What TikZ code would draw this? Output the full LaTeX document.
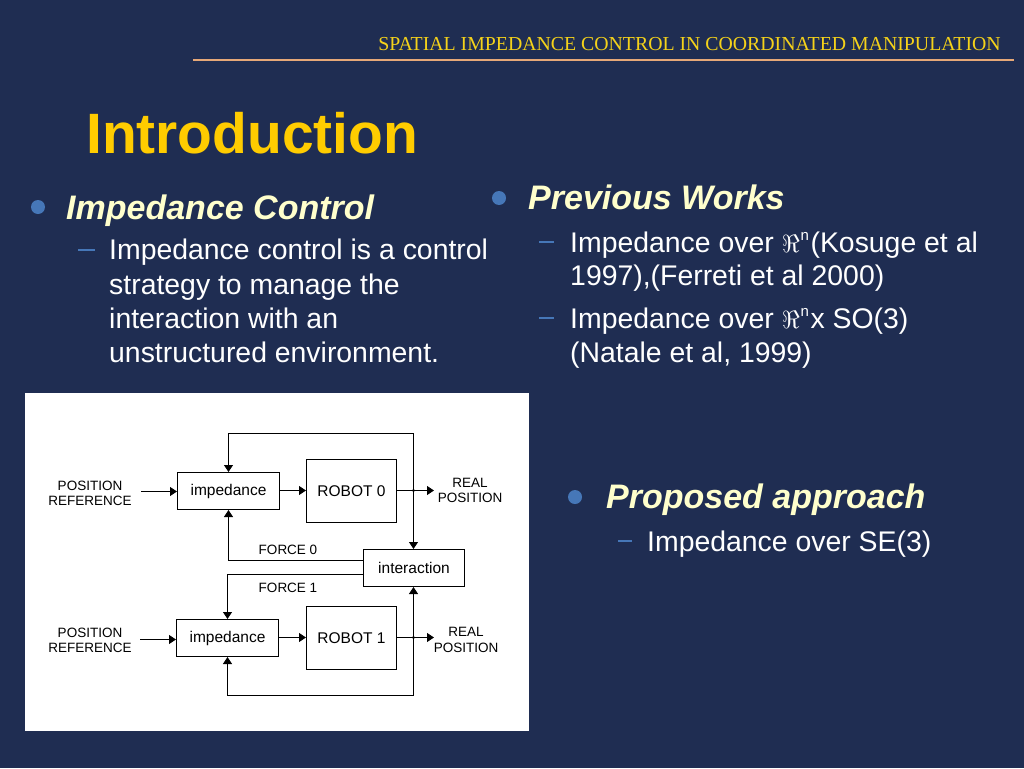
\documentclass[tikz,border=0pt]{standalone}
\usepackage{fontspec}
\setmainfont{Liberation Sans}
\newfontfamily\hdrfont{Liberation Serif}
\usetikzlibrary{arrows.meta}
\definecolor{bg}{HTML}{1F2D52}
\definecolor{hdrcol}{HTML}{F5D21A}
\definecolor{rulecol}{HTML}{E6A878}
\definecolor{titlecol}{HTML}{FFCC00}
\definecolor{headcol}{HTML}{FFFFCC}
\definecolor{bulcol}{HTML}{4677B8}
\newcommand{\supn}{\kern1pt\raisebox{12pt}{\fontsize{15}{15}\selectfont n}\kern1.5pt}
\tikzset{
  txt/.style={anchor=base west, inner sep=0pt, text=white, font=\fontsize{28.4}{34}\selectfont},
  head/.style={anchor=base west, inner sep=0pt, text=headcol, font=\bfseries\itshape\fontsize{34}{40}\selectfont},
  bul/.style={fill=bulcol},
  dashmark/.style={draw=bulcol, line width=1.6pt},
  blk/.style={draw=black, line width=1pt, fill=white, inner sep=0pt, font=\fontsize{15.5}{17}\selectfont},
  lbl/.style={inner sep=0pt, align=center, font=\fontsize{13.5}{15.5}\selectfont},
  arr/.style={draw=black, line width=1pt, -{Triangle[length=7pt,width=9pt]}}
}
\begin{document}
\begin{tikzpicture}[x=1pt,y=-1pt]
\fill[bg] (0,0) rectangle (1024,768);
\useasboundingbox (0,0) rectangle (1024,768);

% header
\node[anchor=base east, inner sep=0pt, text=hdrcol, font=\hdrfont\fontsize{19.8}{22}\selectfont] (hdr) at (1001,50) {SPATIAL IMPEDANCE CONTROL IN COORDINATED MANIPULATION};
\draw[rulecol, line width=1.3pt] (193,60) -- (1014,60);

% title
\node[anchor=base west, inner sep=0pt, text=titlecol, font=\bfseries\fontsize{56.9}{60}\selectfont] (title) at (86,153) {Introduction};

% left column
\fill[bul] (38,207) circle (7);
\node[head] (h1) at (66,219) {Impedance Control};
\draw[dashmark] (78,250) -- (95,250);
\node[txt] (l1) at (109,259) {Impedance control is a control};
\node[txt] (l2) at (109,294) {strategy to manage the};
\node[txt] (l3) at (109,328) {interaction with an};
\node[txt] (l4) at (109,362) {unstructured environment.};

% right column
\fill[bul] (499,198) circle (7);
\node[head] (h2) at (528,209) {Previous Works};
\draw[dashmark] (539,242) -- (554,242);
\node[txt] (r1) at (570,252) {Impedance over $\Re$\supn(Kosuge et al};
\node[txt] (r2) at (570,285) {1997),(Ferreti et al 2000)};
\draw[dashmark] (539,318) -- (554,318);
\node[txt] (r3) at (570,328) {Impedance over $\Re$\supn x SO(3)};
\node[txt] (r4) at (570,362) {(Natale et al, 1999)};

\fill[bul] (575,497) circle (7);
\node[head] (h3) at (606,508) {Proposed approach};
\draw[dashmark] (618,541) -- (632,541);
\node[txt] (p1) at (647,551) {Impedance over SE(3)};

% diagram
\fill[white] (25,393) rectangle (529,731);
\node[blk, minimum width=102pt, minimum height=37pt] (imp0) at (228.5,491) {impedance};
\node[blk, minimum width=90pt, minimum height=63pt] (rob0) at (351.5,491) {ROBOT 0};
\node[blk, minimum width=101pt, minimum height=37pt] (inter) at (414,568) {interaction};
\node[blk, minimum width=102pt, minimum height=37pt] (imp1) at (227.5,638) {impedance};
\node[blk, minimum width=90pt, minimum height=63pt] (rob1) at (351.5,638) {ROBOT 1};

\node[lbl] (pr0) at (90,493.5) {POSITION\\REFERENCE};
\node[lbl] (pr1) at (90,640.5) {POSITION\\REFERENCE};
\node[lbl] (rp0) at (470,490.5) {REAL\\POSITION};
\node[lbl] (rp1) at (466,640) {REAL\\POSITION};
\node[lbl, anchor=base] (f0) at (288,554) {FORCE 0};
\node[lbl, anchor=base] (f1) at (288,592) {FORCE 1};

\coordinate (in0) at (141,491.5);
\coordinate (in1) at (140,639.5);
\coordinate (j0) at (413.5,490.5);
\coordinate (j1) at (413.5,637.5);
\coordinate (out0) at (434,490.5);
\coordinate (out1) at (434,637.5);
\coordinate (t0) at (413.5,433.5);
\coordinate (b1) at (413.5,695.5);

\draw[arr] (in0) -- (in0 -| imp0.west);
\draw[arr] (in1) -- (in1 -| imp1.west);
\draw[arr] (imp0.east |- j0) -- (j0 -| rob0.west);
\draw[arr] (imp1.east |- j1) -- (j1 -| rob1.west);
\draw[arr] (j0 -| rob0.east) -- (out0);
\draw[arr] (j1 -| rob1.east) -- (out1);
\draw[arr] (j0) -- (j0 |- inter.north);
\draw[arr] (j1) -- (j1 |- inter.south);
\draw[arr] (j0) -- (t0) -| (imp0.north);
\draw[arr] (j1) -- (b1) -| (imp1.south);
\draw[arr] ([yshift=7.5pt]inter.west) -| (imp0.south);
\draw[arr] ([yshift=-6.5pt]inter.west) -| (imp1.north);
\fill (j0) circle (1.6);
\fill (j1) circle (1.6);
\end{tikzpicture}
\end{document}
